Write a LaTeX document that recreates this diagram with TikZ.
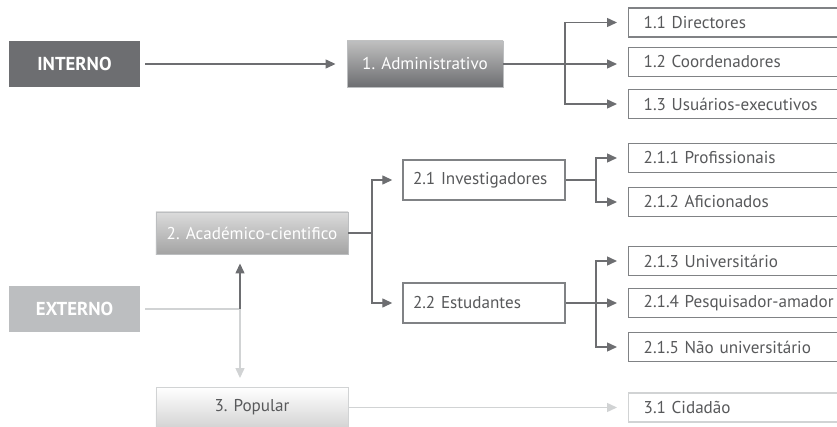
\documentclass[tikz,border=0pt]{standalone}
\usepackage{fontspec}
\setmainfont{PT Sans}
\usetikzlibrary{arrows.meta}
\usetikzlibrary{positioning}

\definecolor{darkgr}{HTML}{6D6E71}
\definecolor{textgr}{HTML}{58595B}
\definecolor{midgr}{HTML}{808285}
\definecolor{lightgr}{HTML}{BCBEC0}
\definecolor{palegr}{HTML}{D1D3D4}

\tikzset{
  base/.style={font=\fontsize{14.6}{17}\selectfont, inner sep=0pt},
  origin/.style={base, font=\fontsize{16}{18}\selectfont\bfseries, text=white,
    minimum width=3.93cm, minimum height=1.38cm},
  level/.style={base, text=white, minimum width=4.68cm, minimum height=1.38cm,
    draw=lightgr, line width=0.8pt, shading=axis},
  leaf/.style={base, text=textgr, draw=midgr, line width=1.2pt, fill=white,
    anchor=west, minimum height=0.87cm, text width=6cm, align=left, inner xsep=0.45cm},
  mid/.style={base, text=textgr, draw=midgr, line width=1.2pt, fill=white,
    minimum height=1.2cm, text width=4.26cm, align=left, inner xsep=0.3cm},
  line/.style={draw=darkgr, line width=1.2pt},
  arr/.style={line, -{Triangle[length=0.3cm,width=0.27cm]}, shorten >=0.33cm},
  lline/.style={draw=palegr, line width=1.2pt},
  larr/.style={lline, -{Triangle[length=0.3cm,width=0.27cm]}, shorten >=0.33cm}
}

\begin{document}
\begin{tikzpicture}[x=0.03cm,y=-0.03cm]
\useasboundingbox (0,0) rectangle (837,427);
\clip (0,0) rectangle (837,427);

% origens
\node[origin, fill=darkgr] (interno) at (74.5,64) {INTERNO};
\node[origin, fill=lightgr] (externo) at (74.5,309) {EXTERNO};

% niveis
\node[level, minimum width=4.68cm, top color=black!25, bottom color=darkgr] (admin) at (425,64) {1. Administrativo};
\node[level, minimum width=5.76cm, minimum height=1.26cm, top color=black!14, bottom color=black!36] (acad) at (252,233) {2. Académico-cientifico};
\node[level, minimum width=5.76cm, minimum height=1.2cm, draw=palegr, text=textgr, top color=white, bottom color=black!17] (popular) at (252,407.5) {3. Popular};

% sub-niveis
\node[mid] (invest) at (484,180) {2.1 Investigadores};
\node[mid] (estud) at (484,303) {2.2 Estudantes};

\node[leaf] (dir) at (628,22.5) {1.1 Directores};
\node[leaf] (coord) at (628,62) {1.2 Coordenadores};
\node[leaf] (usu) at (628,104) {1.3 Usuários-executivos};
\node[leaf] (prof) at (628,158) {2.1.1 Profissionais};
\node[leaf] (afic) at (628,202) {2.1.2 Aficionados};
\node[leaf] (univ) at (628,261) {2.1.3 Universitário};
\node[leaf] (pesq) at (628,303) {2.1.4 Pesquisador-amador};
\node[leaf] (nuniv) at (628,347) {2.1.5 Não universitário};
\node[leaf, draw=palegr] (cid) at (628,407.5) {3.1 Cidadão};

% ramos
\coordinate (s1) at (565,64);
\coordinate (s2) at (372,233);
\coordinate (s21) at (596,180);
\coordinate (s22) at (596,303);
\coordinate (e1) at (240,309);

\draw[arr, shorten <=0.15cm] (interno) -- (admin);
\draw[line] (admin.east) -- (s1);
\draw[arr] (s1) |- (dir);
\draw[arr] (s1) -- (coord.west |- s1);
\draw[arr] (s1) |- (usu);

\draw[line] (acad.east) -- (s2);
\draw[arr, shorten >=0.3cm] (s2) |- (invest);
\draw[arr, shorten >=0.3cm] (s2) |- (estud);

\draw[line] (invest.east) -- (s21);
\draw[arr] (s21) |- (prof);
\draw[arr] (s21) |- (afic);
\draw[line] (estud.east) -- (s22);
\draw[arr] (s22) |- (univ);
\draw[arr] (s22) -- (pesq);
\draw[arr] (s22) |- (nuniv);

\draw[lline, shorten <=0.15cm] (externo) -- (e1);
\draw[arr, shorten >=0.27cm] (e1) -- (e1 |- acad.south);
\draw[larr, shorten >=0.27cm] (e1) -- (e1 |- popular.north);
\draw[larr] (popular) -- (cid);

\end{tikzpicture}
\end{document}
